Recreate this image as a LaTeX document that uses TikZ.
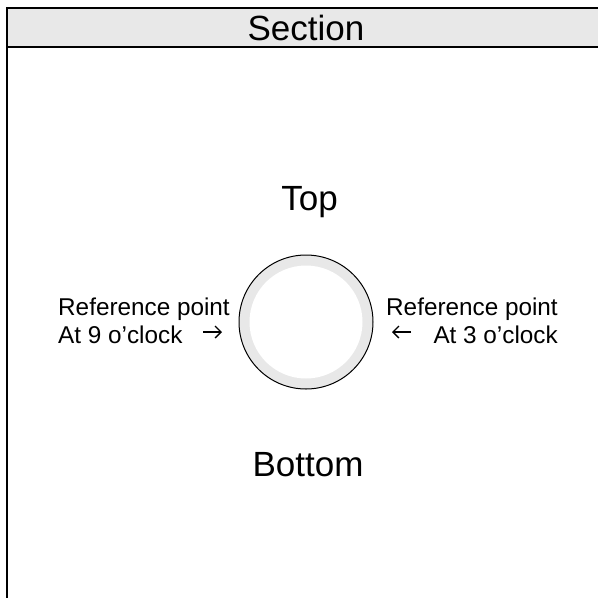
\documentclass[tikz,border=0pt]{standalone}
\usepackage{fontspec}
\setmainfont{Liberation Sans}
\usetikzlibrary{arrows.meta}
\definecolor{ringgray}{HTML}{E8E8E8}
\begin{document}
\begin{tikzpicture}[x=1pt,y=-1pt,
  big/.style={font=\fontsize{35}{40}\selectfont, inner sep=0pt},
  lbl/.style={font=\fontsize{24.3}{28}\selectfont, inner sep=0pt},
  frame/.style={line width=1.6pt, draw=black},
  pointer/.style={line width=1.3pt, -{Straight Barb[length=6pt,width=12pt,line width=1.3pt]}}]
\useasboundingbox (0,0) rectangle (598,598);
\fill[white] (0,0) rectangle (598,598);
% header band
\path[frame, fill=ringgray] (7,8) -- (600,8) -- (600,47) -- (7,47) -- cycle;
\draw[frame] (7,47) -- (7,600);
\node[big, anchor=base] (sec) at (306,40) {Section};
% circle
\node[circle, minimum size=134pt, inner sep=0pt, fill=ringgray, draw=black, line width=1pt] (ring) at (306,322) {};
\node[circle, minimum size=113pt, inner sep=0pt, fill=white] (hole) at (ring.center) {};
\node[big, anchor=base] (top) at (309.5,210) {Top};
\node[big, anchor=base] (bot) at (308,476) {Bottom};
% left label
\node[lbl, anchor=base west] (l1) at (58,315) {Reference point};
\node[lbl, anchor=base west] (l2) at (58,343) {At 9 o’clock};
\coordinate (la0) at (203,332);
\coordinate (la1) at (222,332);
\draw[pointer] (la0) -- (la1);
% right label
\node[lbl, anchor=base west] (r1) at (386,315) {Reference point};
\path (r1.base east) ++(0,28) node[lbl, anchor=base east] (r2) {At 3 o’clock};
\coordinate (ra0) at (411,332);
\coordinate (ra1) at (392,332);
\draw[pointer] (ra0) -- (ra1);
\end{tikzpicture}
\end{document}
